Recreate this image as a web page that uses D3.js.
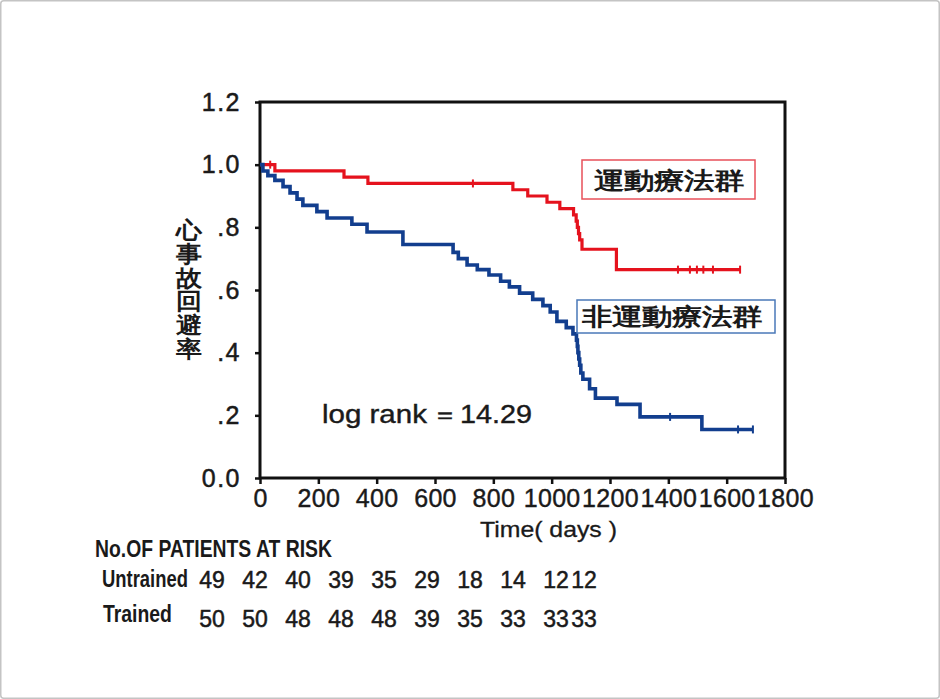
<!DOCTYPE html>
<html>
<head>
<meta charset="utf-8">
<script src="https://cdn.jsdelivr.net/npm/d3@7"></script>
<style>
  html, body { margin: 0; padding: 0; background: #fff; }
  svg { display: block; }
  text { font-family: "Liberation Sans", Arial, sans-serif; fill: #1a1a1a; }
</style>
</head>
<body>
<svg id="chart" width="940" height="699"></svg>
<script>
// ---------- data ----------
// Trained group (運動療法群): [days, survival]
const trainedSteps = [
  [0, 1.0], [51, 0.98], [288, 0.96], [370, 0.94], [867, 0.92], [918, 0.90],
  [984, 0.88], [1028, 0.86], [1075, 0.84], [1084, 0.82], [1088, 0.80],
  [1092, 0.78], [1096, 0.76], [1104, 0.73], [1222, 0.665]
];
const trainedEnd = 1646;
const trainedCensor = [35, 730, 1433, 1474, 1498, 1520, 1553, 1646];

// Untrained group (非運動療法群)
const untrainedSteps = [
  [0, 1.0], [10, 0.98], [27, 0.965], [51, 0.95], [79, 0.93], [103, 0.91],
  [127, 0.89], [147, 0.87], [195, 0.85], [230, 0.83], [315, 0.81],
  [367, 0.785], [490, 0.745], [662, 0.72], [680, 0.70], [710, 0.68],
  [745, 0.665], [785, 0.648], [825, 0.628], [855, 0.61], [890, 0.59],
  [935, 0.57], [970, 0.55], [995, 0.53], [1018, 0.50], [1050, 0.48],
  [1073, 0.46], [1085, 0.44], [1088, 0.42], [1090, 0.40], [1093, 0.38],
  [1096, 0.36], [1100, 0.335], [1107, 0.315], [1130, 0.285], [1150, 0.255],
  [1224, 0.235], [1303, 0.195], [1515, 0.155]
];
const untrainedEnd = 1690;
const untrainedCensor = [1406, 1639, 1690];

const yTicks = [0, 0.2, 0.4, 0.6, 0.8, 1.0, 1.2];
const yTickLabels = ["0.0", ".2", ".4", ".6", ".8", "1.0", "1.2"];
const xTicks = [0, 200, 400, 600, 800, 1000, 1200, 1400, 1600, 1800];

const yTitle = ["心", "事", "故", "回", "避", "率"];
const legendTrained = "運動療法群";
const legendUntrained = "非運動療法群";
const statLabel = "log rank";
const statSymbol = "＝";
const statValue = "14.29";
const xTitle = "Time( days )";

const riskTitle = "No.OF PATIENTS AT RISK";
const riskRows = ["Untrained", "Trained"];
const riskTimes = [0, 200, 400, 600, 800, 1000, 1200, 1400, 1600, 1730];
const riskUntrained = [49, 42, 40, 39, 35, 29, 18, 14, 12, 12];
const riskTrained = [50, 50, 48, 48, 48, 39, 35, 33, 33, 33];

// ---------- layout ----------
const svg = d3.select("#chart");
const W = 940, H = 699;
const plot = { left: 260, right: 785, top: 102, bottom: 478 };
const red = "#e5121d";
const blue = "#123e8e";
const ink = "#1a1a1a";

svg.append("rect").attr("x", 0.75).attr("y", 0.75).attr("width", W - 1.5).attr("height", H - 1.5)
  .attr("fill", "#fff").attr("stroke", "#c4c4c4").attr("stroke-width", 1.5).attr("rx", 3);

// place a text at (x0, y0) and squeeze/stretch it horizontally to width w
function fitText(parent, str, x0, y0, w, opts) {
  const t = parent.append("text").attr("x", 0).attr("y", 0).text(str);
  for (const k in opts) t.attr(k, opts[k]);
  const len = t.node().getComputedTextLength();
  t.attr("transform", `translate(${x0},${y0}) scale(${w / len},1)`);
  return t;
}

const x = d3.scaleLinear().domain([0, 1800]).range([plot.left, plot.right]);
const y = d3.scaleLinear().domain([0, 1.2]).range([plot.bottom, plot.top]);

// axes
const yAxis = d3.axisLeft(y).tickValues(yTicks).tickSize(5).tickPadding(14)
  .tickFormat((d, i) => yTickLabels[i]);
const gy = svg.append("g").attr("transform", `translate(${plot.left},0)`).call(yAxis);
gy.select(".domain").remove();
gy.selectAll("line").attr("stroke", "#111").attr("stroke-width", 2.5);
gy.selectAll("text").attr("font-size", 25).attr("letter-spacing", "1.5px")
  .attr("fill", ink).attr("stroke", ink).attr("stroke-width", 0.5)
  .attr("font-family", "Liberation Sans, Arial, sans-serif");

const xAxis = d3.axisBottom(x).tickValues(xTicks).tickSize(6).tickPadding(5)
  .tickFormat(d3.format("d"));
const gx = svg.append("g").attr("transform", `translate(0,${plot.bottom})`).call(xAxis);
gx.select(".domain").remove();
gx.selectAll("line").attr("stroke", "#111").attr("stroke-width", 2.5);
gx.selectAll("text").attr("font-size", 25).attr("letter-spacing", "0.3px")
  .attr("fill", ink).attr("stroke", ink).attr("stroke-width", 0.4)
  .attr("font-family", "Liberation Sans, Arial, sans-serif");

// frame
svg.append("rect").attr("x", plot.left).attr("y", plot.top)
  .attr("width", plot.right - plot.left).attr("height", plot.bottom - plot.top)
  .attr("fill", "none").attr("stroke", "#111").attr("stroke-width", 3);

// curves
const line = d3.line().x(d => x(d[0])).y(d => y(d[1])).curve(d3.curveStepAfter);
function survAt(steps, t) {
  let s = steps[0][1];
  for (const p of steps) if (p[0] <= t) s = p[1];
  return s;
}
function drawCurve(steps, endT, censor, color, width) {
  const pts = steps.concat([[endT, steps[steps.length - 1][1]]]);
  svg.append("path").datum(pts).attr("d", line)
    .attr("fill", "none").attr("stroke", color).attr("stroke-width", width)
    .attr("stroke-linejoin", "miter");
  svg.append("g").selectAll("line").data(censor).join("line")
    .attr("x1", d => x(d)).attr("x2", d => x(d))
    .attr("y1", d => y(survAt(steps, d)) - 4).attr("y2", d => y(survAt(steps, d)) + 4)
    .attr("stroke", color).attr("stroke-width", 2);
}
drawCurve(trainedSteps, trainedEnd, trainedCensor, red, 3.2);
drawCurve(untrainedSteps, untrainedEnd, untrainedCensor, blue, 3.6);

// y title (vertical stacked)
const gTitle = svg.append("g");
yTitle.forEach((ch, i) => {
  fitText(gTitle, ch, 176, 238 + i * 23.8, 26, {
    "font-size": 23, "font-weight": "bold",
    "font-family": "Noto Sans CJK JP, sans-serif", "fill": ink
  });
});

// legends
svg.append("rect").attr("x", 582).attr("y", 160).attr("width", 173).attr("height", 39)
  .attr("fill", "#fff").attr("stroke", "#e8505a").attr("stroke-width", 1.5);
fitText(svg, legendTrained, 594, 189, 152, {
  "font-size": 24, "font-weight": "bold",
  "font-family": "Noto Sans CJK JP, sans-serif", "fill": "#111"
});

svg.append("rect").attr("x", 577).attr("y", 300).attr("width", 198).attr("height", 33)
  .attr("fill", "#fff").attr("stroke", "#4a78b8").attr("stroke-width", 1.5);
fitText(svg, legendUntrained, 582, 325, 183, {
  "font-size": 24, "font-weight": "bold",
  "font-family": "Noto Sans CJK JP, sans-serif", "fill": "#111"
});

// stat
const statStyle = { "font-size": 25, "fill": ink, "stroke": ink, "stroke-width": 0.4 };
fitText(svg, statLabel, 322, 423, 105, statStyle);
fitText(svg, statSymbol, 432, 423, 26, statStyle);
fitText(svg, statValue, 460, 423, 72, statStyle);

// x title
fitText(svg, xTitle, 480, 537, 137, { "font-size": 22, "fill": ink, "stroke": ink, "stroke-width": 0.3 });

// risk table
const boldStyle = { "font-size": 23, "font-weight": "bold", "fill": ink };
fitText(svg, riskTitle, 95, 557, 237, boldStyle);
fitText(svg, riskRows[0], 102, 587, 86, boldStyle);
fitText(svg, riskRows[1], 103, 622, 69, boldStyle);

const rx = d3.scaleLinear().domain([0, 1600]).range([212, 556]);
const numStyle = (sel) => sel.attr("text-anchor", "middle").attr("font-size", 23)
  .attr("fill", ink).attr("stroke", ink).attr("stroke-width", 0.5);
svg.append("g").selectAll("text").data(riskUntrained).join("text")
  .attr("x", (d, i) => rx(riskTimes[i])).attr("y", 588).call(numStyle).text(d => d);
svg.append("g").selectAll("text").data(riskTrained).join("text")
  .attr("x", (d, i) => rx(riskTimes[i])).attr("y", 627).call(numStyle).text(d => d);
</script>
</body>
</html>
